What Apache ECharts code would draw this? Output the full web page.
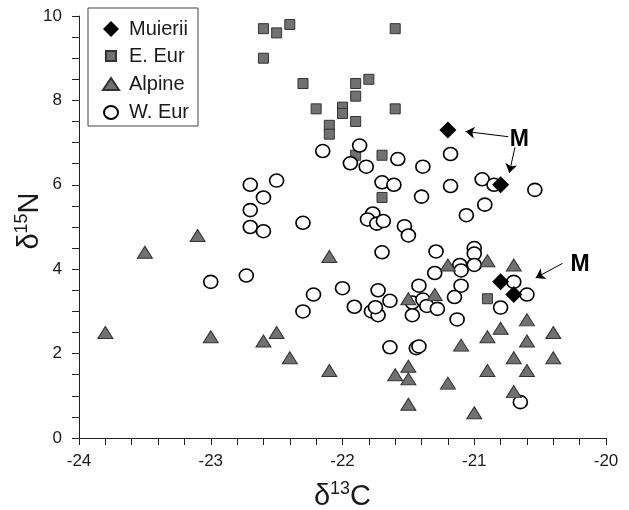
<!DOCTYPE html>
<html>
<head>
<meta charset="utf-8">
<script src="https://cdn.jsdelivr.net/npm/echarts@6/dist/echarts.min.js"></script>
<style>html,body{margin:0;padding:0;background:#fff;}#c{width:629px;height:510px;}</style>
</head>
<body>
<div id="c"></div>
<script>
// ---- data (δ13C, δ15N) ----
const muierii = [[-21.2,7.3],[-20.8,6.0],[-20.8,3.7],[-20.7,3.4]];
const eEur = [[-22.6,9.7],[-22.5,9.6],[-22.4,9.8],[-22.6,9.0],[-21.6,9.7],[-22.3,8.4],[-21.9,8.4],[-21.8,8.5],[-21.9,8.1],[-22.2,7.8],[-22.0,7.84],[-22.0,7.69],[-21.6,7.8],[-21.9,7.5],[-22.1,7.41],[-22.1,7.2],[-21.9,6.7],[-21.7,6.7],[-21.7,5.7],[-20.9,3.3],[-20.8,3.1]];
const alpine = [[-23.8,2.5],[-23.5,4.4],[-23.1,4.8],[-23.0,2.4],[-22.6,2.3],[-22.5,2.5],[-22.4,1.9],[-22.1,4.3],[-22.1,1.6],[-21.6,1.5],[-21.5,3.3],[-21.5,1.7],[-21.5,1.4],[-21.5,0.8],[-21.3,3.4],[-21.2,4.1],[-21.2,1.3],[-21.1,2.2],[-21.0,0.6],[-20.9,4.2],[-20.9,2.4],[-20.9,1.6],[-20.8,2.6],[-20.7,4.1],[-20.7,1.9],[-20.7,1.1],[-20.6,2.8],[-20.6,2.3],[-20.6,1.6],[-20.4,2.5],[-20.4,1.9]];
const wEur = [[-23.0,3.7],[-22.73,3.85],[-22.7,6.0],[-22.5,6.1],[-22.6,5.7],[-22.7,5.4],[-22.7,5.0],[-22.6,4.9],[-22.3,5.1],[-22.3,3.0],[-22.22,3.4],[-22.15,6.8],[-21.87,6.93],[-21.94,6.51],[-21.82,6.43],[-21.58,6.61],[-21.7,6.06],[-21.61,6.0],[-21.77,5.32],[-21.81,5.18],[-21.74,5.08],[-21.69,5.14],[-21.53,5.02],[-21.5,4.8],[-21.7,4.4],[-21.39,6.43],[-21.18,6.73],[-21.4,5.72],[-21.18,5.97],[-20.94,6.13],[-20.85,6.0],[-20.54,5.88],[-20.92,5.53],[-21.06,5.28],[-21.29,4.42],[-21.0,4.5],[-21.0,4.37],[-21.0,4.1],[-21.11,4.1],[-21.1,3.97],[-21.3,3.91],[-21.1,3.61],[-21.15,3.34],[-21.13,2.81],[-21.42,3.61],[-21.47,3.21],[-21.39,3.28],[-21.36,3.13],[-21.28,3.06],[-21.47,2.91],[-20.7,3.7],[-20.6,3.4],[-20.8,3.09],[-20.65,0.85],[-22.0,3.55],[-21.73,3.5],[-21.64,3.25],[-21.91,3.11],[-21.78,3.0],[-21.73,2.91],[-21.75,3.1],[-21.64,2.15],[-21.44,2.13],[-21.42,2.17]];

// axis ranges [min, max, interval]
const xRange = [-24, -20, 1];
const yRange = [0, 10, 2];

// annotations
const labelsM = [[-20.658, 7.06],[-20.197, 4.116]];
const arrows = [
  [[-20.742, 7.14], [-21.066, 7.263]],
  [[-20.691, 6.889], [-20.734, 6.282]],
  [[-20.329, 4.14], [-20.534, 3.794]]
];

const FONT = '"Liberation Sans", Arial, Helvetica, sans-serif';
const GREY = '#717171';

const chart = echarts.init(document.getElementById('c'), null, {renderer: 'canvas'});

const axisLine = {show: true, onZero: false, lineStyle: {color: '#222', width: 1}};
const axisTick = {show: true, inside: false, length: 7, lineStyle: {color: '#222', width: 1}};
const minorTickBase = {show: true, length: 7, lineStyle: {color: '#222', width: 1}};

const richName = {
  a: {fontFamily: FONT, fontSize: 29, lineHeight: 34, color: '#1a1a1a'},
  b: {fontFamily: FONT, fontSize: 18, lineHeight: 30, verticalAlign: 'top', color: '#1a1a1a'}
};

chart.setOption({
  animation: false,
  backgroundColor: '#fff',
  grid: {left: 79, right: 23, top: 16, bottom: 72, containLabel: false, outerBoundsMode: 'none'},
  legend: {
    orient: 'vertical',
    left: 88, top: 8,
    padding: [11, 9, 3, 13],
    itemWidth: 22, itemHeight: 20, itemGap: 6,
    borderColor: '#444', borderWidth: 1,
    textStyle: {fontFamily: FONT, fontSize: 20, color: '#1a1a1a'},
    data: [
      {name: 'Muierii', icon: 'path://M0,0M22,20M9,2L17,10L9,18L1,10Z'},
      {name: 'E. Eur', icon: 'path://M0,0M22,20M4,5H14V15H4Z'},
      {name: 'Alpine', icon: 'path://M0,0M22,20M9,4L17,16L1,16Z'},
      {name: 'W. Eur', icon: 'path://M0,0M22,20M2,10.5A7,6.5,0,1,0,16,10.5A7,6.5,0,1,0,2,10.5Z'}
    ]
  },
  xAxis: {
    type: 'value', min: xRange[0], max: xRange[1], interval: xRange[2],
    axisLine: axisLine, axisTick: axisTick,
    minorTick: Object.assign({}, minorTickBase, {splitNumber: 5}),
    splitLine: {show: false}, minorSplitLine: {show: false},
    axisLabel: {fontFamily: FONT, fontSize: 17, color: '#1a1a1a', margin: 15},
    name: '{a|δ}{b|13}{a|C}',
    nameLocation: 'middle', nameGap: 42, nameMoveOverlap: false,
    nameTextStyle: {rich: richName}
  },
  yAxis: {
    type: 'value', min: yRange[0], max: yRange[1], interval: yRange[2],
    axisLine: axisLine, axisTick: axisTick,
    minorTick: Object.assign({}, minorTickBase, {splitNumber: 4}),
    splitLine: {show: false}, minorSplitLine: {show: false},
    axisLabel: {fontFamily: FONT, fontSize: 17, color: '#1a1a1a', margin: 17},
    name: '{a|δ}{b|15}{a|N}',
    nameLocation: 'middle', nameGap: 32, nameMoveOverlap: false,
    nameTextStyle: {rich: richName, padding: [0, 0, 0, 12]}
  },
  series: [
    {
      name: 'E. Eur', type: 'scatter', data: eEur,
      symbol: 'rect', symbolSize: [10, 10],
      itemStyle: {color: GREY, borderColor: '#333', borderWidth: 1, opacity: 1},
      emphasis: {disabled: true}, silent: true, z: 2
    },
    {
      name: 'W. Eur', type: 'scatter', data: wEur,
      symbol: 'circle', symbolSize: [14, 13],
      itemStyle: {color: '#fff', borderColor: '#000', borderWidth: 1.6, opacity: 1},
      emphasis: {disabled: true}, silent: true, z: 3
    },
    {
      name: 'Alpine', type: 'scatter', data: alpine,
      symbol: 'triangle', symbolSize: [15, 12],
      itemStyle: {color: GREY, borderColor: '#333', borderWidth: 1, opacity: 1},
      emphasis: {disabled: true}, silent: true, z: 4
    },
    {
      name: 'Muierii', type: 'scatter', data: muierii,
      symbol: 'diamond', symbolSize: [17, 17],
      itemStyle: {color: '#000', borderColor: '#000', borderWidth: 0, opacity: 1},
      emphasis: {disabled: true}, silent: true, z: 5,
      markLine: {
        silent: true, animation: false,
        symbol: ['none', 'arrow'], symbolSize: 9,
        label: {show: false},
        lineStyle: {color: '#000', width: 1, type: 'solid'},
        itemStyle: {color: '#000'},
        emphasis: {disabled: true},
        data: arrows.map(a => [{coord: a[0]}, {coord: a[1]}])
      },
      markPoint: {
        silent: true, animation: false,
        symbol: 'rect', symbolSize: 1,
        itemStyle: {color: 'rgba(0,0,0,0)'},
        label: {show: true, position: 'inside', formatter: 'M', fontFamily: FONT, fontWeight: 'bold', fontSize: 23, color: '#000'},
        emphasis: {disabled: true},
        data: labelsM.map(p => ({coord: p}))
      }
    }
  ]
});
</script>
</body>
</html>
